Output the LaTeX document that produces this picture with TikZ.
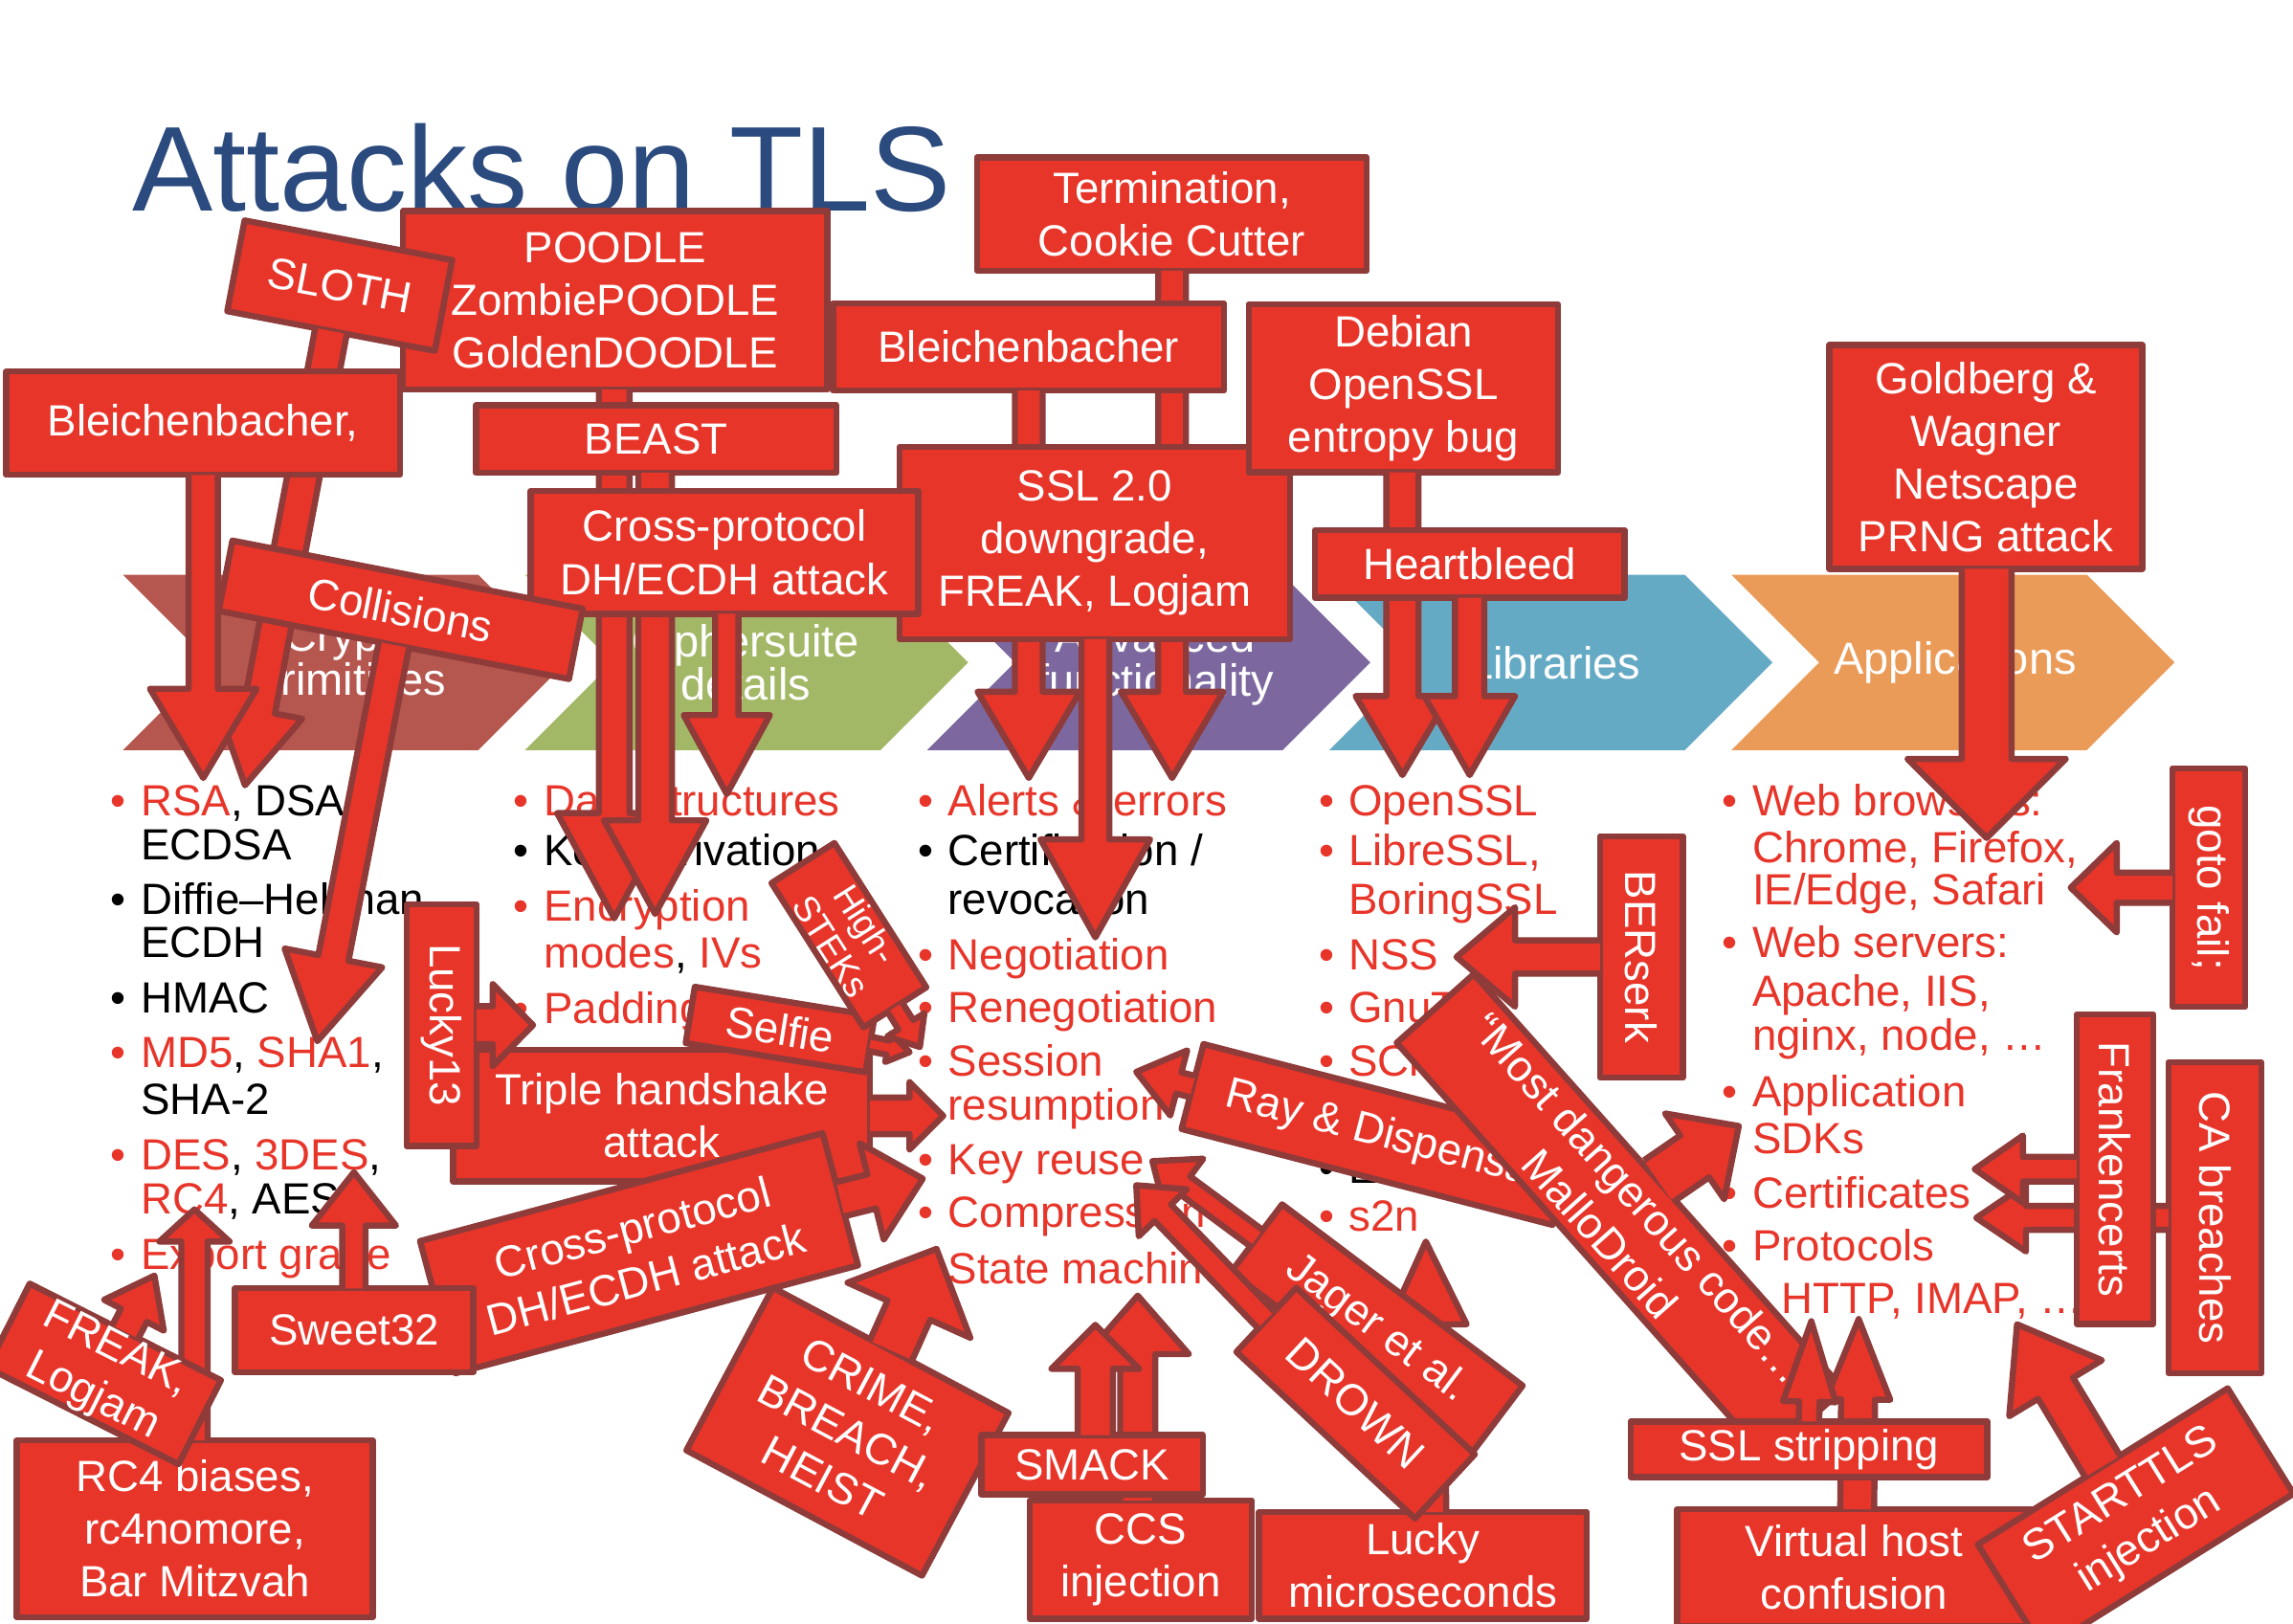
\documentclass[tikz,border=0pt]{standalone}
\usepackage{fontspec}
\setmainfont{Liberation Sans}
\usetikzlibrary{calc}

\definecolor{tlsred}{HTML}{E8352A}
\definecolor{tlsline}{HTML}{8E3B3A}
\definecolor{tlsblue}{HTML}{2B4A7E}
\definecolor{chevA}{HTML}{B5574F}
\definecolor{chevB}{HTML}{A3B866}
\definecolor{chevC}{HTML}{7C689F}
\definecolor{chevD}{HTML}{65AAC4}
\definecolor{chevE}{HTML}{EB9B58}

\newdimen\pxu \pxu=0.02cm
\def\bw{1.2pt}
\newcommand\calfont{\fontsize{17pt}{20.5pt}\selectfont}
\newcommand\listfont{\fontsize{17pt}{17pt}\selectfont}
\newcommand\chevfont{\fontsize{17.5pt}{17pt}\selectfont}
\newcommand\rd[1]{\textcolor{tlsred}{#1}}
\newcommand\bul[1][tlsred]{\llap{\textcolor{#1}{\textbullet}\hspace{0.2cm}}}

% block arrow: from, to, stem half width, head half width, head length (px)
\newcommand\blockarrow[5]{%
  \fill[tlsred] let \p1=(#1), \p2=(#2),
      \n1={atan2(\y2-\y1,\x2-\x1)}, \n2={veclen(\x2-\x1,\y2-\y1)} in
    (\p1) ++(\n1+180:\bw) ++(\n1+90:#3*\pxu)
    -- ++(\n1:\n2+\bw-#5*\pxu) -- ++(\n1+90:#4*\pxu-#3*\pxu) -- (\p2)
    -- ($(\p2)+(\n1+180:#5*\pxu)+(\n1-90:#4*\pxu)$)
    -- ++(\n1+90:#4*\pxu-#3*\pxu) -- ++(\n1+180:\n2+\bw-#5*\pxu) -- cycle;
  \draw[arrowline] let \p1=(#1), \p2=(#2),
      \n1={atan2(\y2-\y1,\x2-\x1)}, \n2={veclen(\x2-\x1,\y2-\y1)} in
    (\p1) ++(\n1+180:\bw) ++(\n1+90:#3*\pxu)
    -- ++(\n1:\n2+\bw-#5*\pxu) -- ++(\n1+90:#4*\pxu-#3*\pxu) -- (\p2)
    -- ($(\p2)+(\n1+180:#5*\pxu)+(\n1-90:#4*\pxu)$)
    -- ++(\n1+90:#4*\pxu-#3*\pxu) -- ++(\n1+180:\n2+\bw-#5*\pxu);
}

\begin{document}
\begin{tikzpicture}[x=0.02cm, y=-0.02cm,
    callbox/.style={draw=tlsline, line width=2.4pt, fill=tlsred, text=white, font=\calfont,
                    align=center, inner sep=0pt, line join=round},
    arrowline/.style={draw=tlsline, line width=2.4pt, line join=round},
    sz/.style 2 args={minimum width=#1*\pxu, minimum height=#2*\pxu},
    listtext/.style={anchor=base west, font=\listfont, inner sep=0pt},
    chevlabel/.style={text=white, font=\chevfont, align=center}]
        \useasboundingbox (0,0) rectangle (1568,1110);
        \clip (0,0) rectangle (1568,1110);

        \node at (90,144) [anchor=base west, inner sep=0pt, text=tlsblue, font={\fontsize{47pt}{50pt}\selectfont}] (title) {Attacks on TLS};

        % chevrons
        \fill[chevA] (84,393) -- (327,393) -- (387,453) -- (327,513) -- (84,513) -- (144,453) -- cycle;
        \fill[chevB] (359,393) -- (602,393) -- (662,453) -- (602,513) -- (359,513) -- (419,453) -- cycle;
        \fill[chevC] (634,393) -- (877,393) -- (937,453) -- (877,513) -- (634,513) -- (694,453) -- cycle;
        \fill[chevD] (909,393) -- (1152,393) -- (1212,453) -- (1152,513) -- (909,513) -- (969,453) -- cycle;
        \fill[chevE] (1184,393) -- (1427,393) -- (1487,453) -- (1427,513) -- (1184,513) -- (1244,453) -- cycle;
        \node at (240,453) [chevlabel] (labCrypto) {Crypto\\primitives};
        \node at (510,453) [chevlabel] (labCipher) {Ciphersuite\\details};
        \node at (790,453) [chevlabel] (labAdvanced) {Advanced\\functionality};
        \node at (1063,453) [chevlabel] (labLibraries) {Libraries};
        \node at (1337,453) [chevlabel] (labApps) {Applications};

        % lists
        \node at (96,558) [listtext] (iRSA) {\bul\rd{RSA}, DSA};
        \node at (96,588) [listtext] (iECDSA) {ECDSA};
        \node at (96,625) [listtext] (iDH) {\bul[black]Diffie–Hellman};
        \node at (96,655) [listtext] (iECDH) {ECDH};
        \node at (96,693) [listtext] (iHMAC) {\bul[black]HMAC};
        \node at (96,730) [listtext] (iMD5) {\bul\rd{MD5}, \rd{SHA1},};
        \node at (96,762) [listtext] (iSHA2) {SHA-2};
        \node at (96,800) [listtext] (iDES) {\bul\rd{DES}, \rd{3DES},};
        \node at (96,830) [listtext] (iRC4) {\rd{RC4}, AES};
        \node at (96,868) [listtext] (iExport) {\bul\rd{Export grade}};

        \node at (371.5,558) [listtext] (iData) {\bul\rd{Data structures}};
        \node at (371.5,592) [listtext] (iKDF) {\bul[black]Key derivation};
        \node at (371.5,630) [listtext] (iEnc) {\bul\rd{Encryption}};
        \node at (371.5,662) [listtext] (iModes) {\rd{modes}, \rd{IVs}};
        \node at (371.5,700) [listtext] (iPad) {\bul\rd{Padding}};

        \node at (648,558) [listtext] (iAlerts) {\bul\rd{Alerts \& errors}};
        \node at (648,592) [listtext] (iCert) {\bul[black]Certification /};
        \node at (648,625) [listtext] (iRevoc) {revocation};
        \node at (648,663) [listtext] (iNeg) {\bul\rd{Negotiation}};
        \node at (648,699) [listtext] (iReneg) {\bul\rd{Renegotiation}};
        \node at (648,736) [listtext] (iSess) {\bul\rd{Session}};
        \node at (648,766) [listtext] (iResump) {\rd{resumption}};
        \node at (648,803) [listtext] (iKey) {\bul\rd{Key reuse}};
        \node at (648,839) [listtext] (iComp) {\bul\rd{Compression}};
        \node at (648,878) [listtext] (iState) {\bul\rd{State machine}};

        \node at (922,558) [listtext] (iOpenSSL) {\bul\rd{OpenSSL}};
        \node at (922,592) [listtext] (iLibre) {\bul\rd{LibreSSL,}};
        \node at (922,625) [listtext] (iBoring) {\rd{BoringSSL}};
        \node at (922,663) [listtext] (iNSS) {\bul\rd{NSS}};
        \node at (922,699) [listtext] (iGnu) {\bul\rd{GnuTLS}};
        \node at (922,736) [listtext] (iSChan) {\bul\rd{SChannel}};
        \node at (922,809) [listtext] (iErlang) {\bul[black]Erlang};
        \node at (922,842) [listtext] (iS2n) {\bul\rd{s2n}};

        \node at (1198,558) [listtext] (iBrowsers) {\bul\rd{Web browsers:}};
        \node at (1198,590) [listtext] (iChrome) {\rd{Chrome, Firefox,}};
        \node at (1198,619) [listtext] (iIE) {\rd{IE/Edge, Safari}};
        \node at (1198,655) [listtext] (iServers) {\bul\rd{Web servers:}};
        \node at (1198,688) [listtext] (iApache) {\rd{Apache, IIS,}};
        \node at (1198,718) [listtext] (iNginx) {\rd{nginx, node, …}};
        \node at (1198,757) [listtext] (iApp) {\bul\rd{Application}};
        \node at (1198,789) [listtext] (iSDK) {\rd{SDKs}};
        \node at (1198,826) [listtext] (iCerts) {\bul\rd{Certificates}};
        \node at (1198,862) [listtext] (iProto) {\bul\rd{Protocols}};
        \node at (1218,898) [listtext] (iHTTP) {\rd{HTTP, IMAP, …}};

        % arrow targets
        \coordinate (tRSA) at (139,532);
        \coordinate (tDSA) at (167.5,537);
        \coordinate (tSHA) at (217,712);
        \coordinate (tEncA) at (420,628);
        \coordinate (tEncB) at (448,625);
        \coordinate (tData) at (497,543);
        \coordinate (tAlerts) at (703.5,532);
        \coordinate (tErrors) at (801.5,532);
        \coordinate (tNegotiation) at (749,641);
        \coordinate (tOpenSSL) at (959,530);
        \coordinate (tOpenSSLb) at (1005,530);
        \coordinate (tBrowsers) at (1358.5,573);
        \coordinate (tSafari) at (1416,607);
        \coordinate (tNSS) at (996,654.4);
        \coordinate (tPadding) at (364.5,701);
        \coordinate (tResumption) at (645,763);
        \coordinate (tSessionA) at (622,719.5);
        \coordinate (tSessionB) at (629,716);
        \coordinate (tRC4) at (133,827);
        \coordinate (tExport) at (105.6,872.3);
        \coordinate (tKeyReuse) at (631,806);
        \coordinate (tDES) at (242,801.6);
        \coordinate (tCompression) at (640.4,854);
        \coordinate (tStateA) at (778,886);
        \coordinate (tStateB) at (749,906);
        \coordinate (tS2n) at (975,849);
        \coordinate (tKeyReuseB) at (788,794);
        \coordinate (tKeyReuseC) at (777,810.5);
        \coordinate (tResumptionB) at (777,733);
        \coordinate (tSDK) at (1189,770);
        \coordinate (tHTTPa) at (1238.6,903.5);
        \coordinate (tHTTPb) at (1271,902);
        \coordinate (tHTTPc) at (1379.3,905.6);
        \coordinate (tCertA) at (1350.3,799.5);
        \coordinate (tCertB) at (1351.4,832.8);

        % callouts, top middle
        \node at (801.3,146.4) [callbox, sz={266.6}{77.3}] (termination) {Termination,\\Cookie Cutter};
        \blockarrow{801.5,0 |- termination.south}{tErrors}{9.5}{35}{59}
        \node at (703.4,237.3) [callbox, sz={267.3}{59.5}] (bleichC) {Bleichenbacher};
        \blockarrow{703.5,0 |- bleichC.south}{tAlerts}{9.5}{35}{59}
        \node at (748.5,371.3) [callbox, sz={267}{131.4}] (sslv2) {SSL 2.0\\downgrade,\\FREAK, Logjam};
        \blockarrow{749,0 |- sslv2.south}{tNegotiation}{9.5}{37.5}{67}
        \node at (959.7,265.5) [callbox, sz={211.7}{115}] (debian) {Debian\\OpenSSL\\entropy bug};
        \blockarrow{959,0 |- debian.south}{tOpenSSL}{11}{32}{54}
        \node at (1005,385.7) [callbox, sz={212}{46.2}] (heartbleed) {Heartbleed};
        \blockarrow{1005,0 |- heartbleed.south}{tOpenSSLb}{10}{31}{54}
        \node at (1358,312.5) [callbox, sz={214}{153}] (goldberg) {Goldberg \&\\Wagner\\Netscape\\PRNG attack};
        \blockarrow{1358.5,0 |- goldberg.south}{tBrowsers}{17}{54}{54}

        % callouts, top left
        \node at (420.6,205.4) [callbox, sz={290}{122}] (poodle) {POODLE\\ZombiePOODLE\\GoldenDOODLE};
        \blockarrow{420,0 |- poodle.south}{tEncA}{10.5}{39}{72}
        \node at (232.3,195.3) [callbox, sz={144.5}{63.2}, rotate=-10.8] (sloth) {SLOTH};
        \blockarrow{sloth.south}{tDSA}{11}{30}{52}
        \node at (138.8,289.4) [callbox, sz={269.2}{70.7}] (bleichL) {Bleichenbacher,};
        \blockarrow{139,0 |- bleichL.south}{tRSA}{10}{36.5}{61}
        \node at (448.7,300.2) [callbox, sz={246.3}{46.3}] (beast) {BEAST};
        \blockarrow{448,0 |- beast.south}{tEncB}{11.5}{35}{64}
        \node at (495.5,377.7) [callbox, sz={265}{84.1}] (crossA) {Cross-protocol\\DH/ECDH attack};
        \blockarrow{497,0 |- crossA.south}{tData}{8}{29.5}{54}
        \node at (274,417) [callbox, sz={244}{49}, rotate=-11] (collisions) {Collisions};
        \blockarrow{collisions.south}{tSHA}{10.5}{34}{58}

        % callouts, right
        \node at (1510.5,607) [callbox, sz={163}{49.8}, rotate=-90] (gotofail) {goto fail;};
        \blockarrow{gotofail.south}{tSafari}{10.3}{30.6}{31.5}
        \node at (1122.4,654.4) [callbox, sz={165.2}{56.7}, rotate=-90] (berserk) {BERserk};
        \blockarrow{berserk.south}{tNSS}{11.4}{34}{40}

        % callouts, middle left
        \node at (452.5,763) [callbox, sz={285}{90}] (triple) {Triple handshake\\attack};
        \blockarrow{triple.east}{tResumption}{12.5}{23}{23}
        \node at (301.9,701) [callbox, sz={165.3}{47.7}, rotate=-90] (lucky13) {Lucky13};
        \blockarrow{lucky13.north}{tPadding}{13}{28}{27.5}
        \node at (533.5,704) [callbox, sz={124.6}{39}, rotate=-9.2] (selfie) {Selfie};
        \blockarrow{selfie.east}{tSessionA}{5}{10}{15}
        \node at (580.5,639.5) [callbox, sz={117}{51}, rotate=-57.5, font={\fontsize{14pt}{16pt}\selectfont}] (highsteks) {High-\\STEKs};
        \blockarrow{highsteks.east}{tSessionB}{6}{15}{18}

        % callouts, bottom left
        \node at (133.2,1045.4) [callbox, sz={243.3}{120.8}] (rc4box) {RC4 biases,\\rc4nomore,\\Bar Mitzvah};
        \blockarrow{133,0 |- rc4box.north}{tRC4}{9}{24}{22}
        \node at (71.2,939.5) [callbox, sz={146.5}{64.3}, rotate=-26.8] (freak) {FREAK,\\Logjam};
        \blockarrow{freak.north}{tExport}{10}{23}{30.5}
        \node at (437,857) [callbox, sz={285}{93.6}, rotate=15] (crossB) {Cross-protocol\\DH/ECDH attack};
        \blockarrow{crossB.east}{tKeyReuse}{12}{34}{36}
        \node at (242.2,909.7) [callbox, sz={163}{57.4}] (sweet32) {Sweet32};
        \blockarrow{242,0 |- sweet32.north}{tDES}{8}{28.8}{36.5}
        \node at (579.5,979) [callbox, sz={182.5}{126}, rotate=-28] (crime) {CRIME,\\BREACH,\\HEIST};
        \blockarrow{crime.north}{tCompression}{16}{46}{46}
        \node at (780,1066.5) [callbox, sz={152}{81}] (ccs) {CCS\\injection};
        \blockarrow{778,0 |- ccs.north}{tStateA}{12}{35}{40}
        \node at (746.8,1001.7) [callbox, sz={151.5}{40.6}] (smack) {SMACK};
        \blockarrow{749,0 |- smack.north}{tStateB}{12}{30}{30}

        % callouts, bottom middle
        \node at (973,1070.5) [callbox, sz={224}{73}] (lucky) {Lucky\\microseconds};
        \blockarrow{978,0 |- lucky.north}{tS2n}{11}{27}{57}
        \node at (941.5,908.7) [callbox, sz={206}{58}, rotate=-37] (jager) {Jager et al.};
        \blockarrow{jager.west}{tKeyReuseB}{7}{22}{27}
        \node at (927,959.5) [callbox, sz={167}{60}, rotate=-43] (drown) {DROWN};
        \blockarrow{drown.west}{tKeyReuseC}{8}{23}{26}
        \node at (942.3,775.8) [callbox, sz={262}{60}, rotate=-14.5] (ray) {Ray \& Dispensa};
        \blockarrow{ray.west}{tResumptionB}{7.5}{23}{30}
        \node at (1107.8,831.5) [callbox, sz={380}{70.6}, rotate=-48.3] (mallo) {“Most dangerous code…\\MalloDroid};
        \blockarrow{mallo.north}{tSDK}{17.4}{35.6}{36.6}

        % callouts, bottom right
        \node at (1268,1072) [callbox, sz={242}{80}] (vhost) {Virtual host\\confusion};
        \blockarrow{1270,0 |- vhost.north}{tHTTPb}{11.6}{22}{55}
        \node at (1237,991) [callbox, sz={244}{38}] (sslstrip) {SSL stripping};
        \blockarrow{1237,0 |- sslstrip.north}{tHTTPa}{7}{18}{55}
        \node at (1460.4,1038.8) [callbox, sz={201.5}{85}, rotate=32] (starttls) {STARTTLS\\injection};
        \blockarrow{starttls.north}{tHTTPc}{14}{37}{51}
        \node at (1514.6,832.8) [callbox, sz={212.7}{63.5}, rotate=-90] (cabreach) {CA breaches};
        \blockarrow{cabreach.south}{tCertB}{8.2}{23}{34}
        \node at (1446.3,799.5) [callbox, sz={211.6}{52.5}, rotate=-90] (franken) {Frankencerts};
        \blockarrow{franken.south}{tCertA}{8.5}{23}{33}
\end{tikzpicture}
\end{document}
